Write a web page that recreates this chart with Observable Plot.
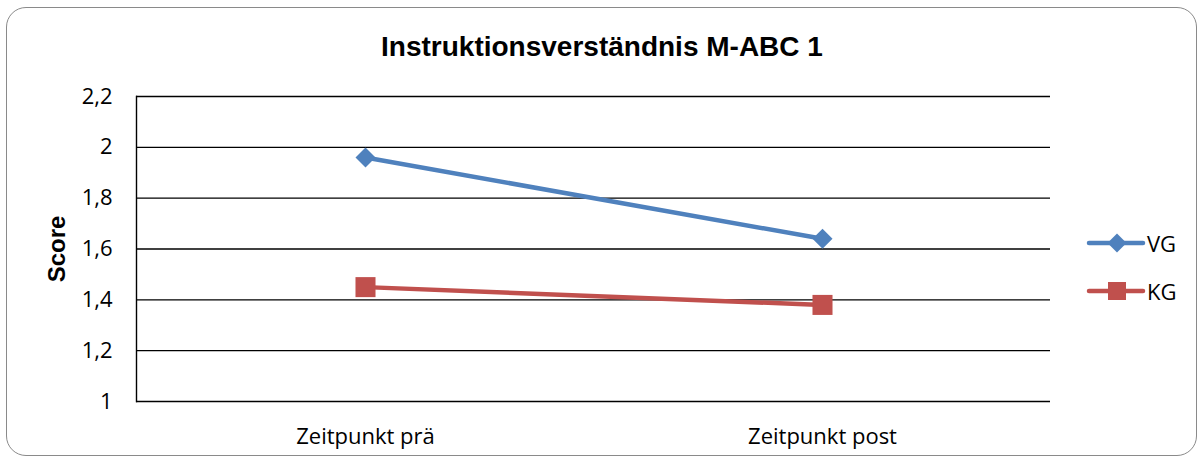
<!DOCTYPE html>
<html>
<head>
<meta charset="utf-8">
<script src="https://cdn.jsdelivr.net/npm/d3@7"></script>
<script src="https://cdn.jsdelivr.net/npm/@observablehq/plot@0.6"></script>
<style>
  html, body { margin: 0; padding: 0; background: #fff; }
  #wrap { position: relative; width: 1204px; height: 461px; overflow: hidden; background: #fff; }
  #border { position: absolute; left: 6px; top: 7px; width: 1191px; height: 449px; box-sizing: border-box;
            border: 1.5px solid #8a8a8a; border-radius: 20px; }
  #title { position: absolute; left: 0; top: 33px; width: 1204px; text-align: center;
           font: bold 28px/28px "Liberation Sans", Arial, sans-serif; color: #000; }
  #chart { position: absolute; left: 0; top: 70px; }
  #legend { position: absolute; left: 1086px; top: 219px; font: 22px "Open Sans", sans-serif; color: #000; }
  .row { display: flex; align-items: center; height: 48px; }
  .row span { margin-left: 1px; }
</style>
</head>
<body>
<div id="wrap">
  <div id="border"></div>
  <div id="title"></div>
  <div id="chart"></div>
  <div id="legend"></div>
</div>
<script>
const titleText = "Instruktionsverständnis M-ABC 1";
const yLabel = "Score";
const categories = ["Zeitpunkt prä", "Zeitpunkt post"];
const seriesNames = ["VG", "KG"];
const seriesColors = ["#4F81BD", "#C0504D"];
const seriesSymbols = ["diamond2", "square"];
const vgValues = [1.96, 1.64];
const kgValues = [1.45, 1.38];
const yTicks = [1, 1.2, 1.4, 1.6, 1.8, 2, 2.2];

const allValues = [vgValues, kgValues];
const data = [];
seriesNames.forEach((s, i) => {
  categories.forEach((c, j) => data.push({series: s, cat: c, value: allValues[i][j]}));
});

document.getElementById("title").textContent = titleText;

const fmt = d => (Math.round(d * 10) / 10).toString().replace(".", ",");

const plot = Plot.plot({
  width: 1204,
  height: 391,
  marginTop: 26,
  marginBottom: 60,
  marginLeft: 136,
  marginRight: 154,
  style: {fontFamily: "'Open Sans', sans-serif", fontSize: "22px", color: "#000", background: "transparent", overflow: "visible"},
  x: {type: "point", domain: categories, padding: 0.5},
  y: {domain: [1, 2.2]},
  color: {domain: seriesNames, range: seriesColors},
  marks: [
    Plot.ruleY(yTicks, {stroke: "#000", strokeWidth: 1.4}),
    Plot.frame({anchor: "left", stroke: "#000", strokeWidth: 1.4}),
    Plot.axisY({ticks: yTicks, tickFormat: fmt, tickSize: 0, tickPadding: 24, label: null, fontSize: 22}),
    Plot.axisY({ticks: [], label: yLabel, labelAnchor: "center", labelArrow: false, labelOffset: 89,
                fontFamily: "'Liberation Sans', Arial, sans-serif", fontWeight: "bold", fontSize: 24, tickSize: 0}),
    Plot.axisX({tickSize: 0, tickPadding: 27, label: null, fontSize: 22}),
    Plot.line(data, {x: "cat", y: "value", z: "series", stroke: "series", strokeWidth: 4.5, strokeLinecap: "round"}),
    Plot.dot(data.filter(d => d.series === seriesNames[0]), {x: "cat", y: "value", fill: "series", symbol: () => seriesSymbols[0], r: 9}),
    Plot.dot(data.filter(d => d.series === seriesNames[1]), {x: "cat", y: "value", fill: "series", symbol: () => seriesSymbols[1], r: 11.3})
  ]
});
document.getElementById("chart").appendChild(plot);

// legend
const legend = d3.select("#legend");
seriesNames.forEach((s, i) => {
  const row = legend.append("div").attr("class", "row");
  const svg = row.append("svg").attr("width", 60).attr("height", 26);
  svg.append("line").attr("x1", 3).attr("x2", 57).attr("y1", 13).attr("y2", 13)
     .attr("stroke", seriesColors[i]).attr("stroke-width", 4.5).attr("stroke-linecap", "round");
  const sym = i === 0 ? d3.symbol(d3.symbolDiamond2, 230) : d3.symbol(d3.symbolSquare, 324);
  svg.append("path").attr("d", sym()).attr("transform", "translate(31,13)").attr("fill", seriesColors[i]);
  row.append("span").text(s);
});
</script>
</body>
</html>
